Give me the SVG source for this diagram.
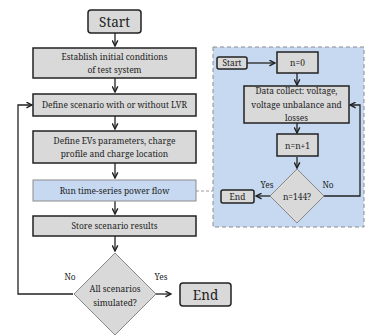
<svg xmlns="http://www.w3.org/2000/svg" width="370" height="336" viewBox="0 0 370 336" font-family="Noto Serif, Liberation Serif, serif">
<defs>
<marker id="ah" viewBox="0 0 10 10" refX="9" refY="5" markerWidth="7" markerHeight="7" markerUnits="userSpaceOnUse" orient="auto">
<path d="M1,1 L9,5 L1,9" fill="none" stroke="#222" stroke-width="2"/>
</marker>
</defs>
<style>
.box{fill:#d9d9d9;stroke:#222;stroke-width:1.5}
.blue{fill:#c6d9f1;stroke:#8c8c8c;stroke-width:1}
.t{font-size:8.4px;fill:#222;text-anchor:middle}
.big{font-size:13.5px;fill:#222;text-anchor:middle}
.ar{fill:none;stroke:#222;stroke-width:1.3;marker-end:url(#ah)}
</style>
<rect width="370" height="336" fill="#fff"/>
<g id="panel">
<rect x="213" y="47" width="151" height="180" fill="#c6d9f1" stroke="#8c8c8c" stroke-width="1" stroke-dasharray="4,3"/>
</g>
<g id="connectors">
<line class="ar" x1="115" y1="33" x2="115" y2="46"/>
<line class="ar" x1="115" y1="78" x2="115" y2="92"/>
<line class="ar" x1="115" y1="116" x2="115" y2="129"/>
<line class="ar" x1="115" y1="163" x2="115" y2="178"/>
<line class="ar" x1="115" y1="201" x2="115" y2="214"/>
<line class="ar" x1="115" y1="236" x2="115" y2="251"/>
<line class="ar" x1="156" y1="294" x2="171" y2="294"/>
<polyline class="ar" points="73,294 18,294 18,105 32,105"/>
<line x1="196" y1="191" x2="213" y2="191" stroke="#999" stroke-width="1" stroke-dasharray="3,2"/>
<line class="ar" x1="247" y1="63" x2="275" y2="63"/>
<line class="ar" x1="297" y1="73" x2="297" y2="85"/>
<line class="ar" x1="297" y1="123" x2="297" y2="133"/>
<line class="ar" x1="297" y1="157" x2="297" y2="168"/>
<line class="ar" x1="270" y1="196" x2="256" y2="196"/>
<polyline class="ar" points="324,196 360,196 360,105 350,105"/>
<text class="t" x="70" y="280">No</text>
<text class="t" x="161" y="280">Yes</text>
<text class="t" x="267" y="188">Yes</text>
<text class="t" x="328" y="188">No</text>
</g>
<g id="start">
<rect class="box" x="88" y="10" width="53" height="23" rx="3" stroke-width="2"/>
<text class="big" x="114.5" y="26.5">Start</text>
</g>
<g id="establish">
<rect class="box" x="33" y="48" width="163" height="30"/>
<text class="t" x="114.5" y="60">Establish initial conditions</text>
<text class="t" x="114.5" y="73">of test system</text>
</g>
<g id="scenario">
<rect class="box" x="33" y="94" width="163" height="22"/>
<text class="t" x="114.5" y="108">Define scenario with or without LVR</text>
</g>
<g id="evs">
<rect class="box" x="33" y="131" width="163" height="32"/>
<text class="t" x="114.5" y="143.5">Define EVs parameters, charge</text>
<text class="t" x="114.5" y="157">profile and charge location</text>
</g>
<g id="run">
<rect class="blue" x="33" y="180" width="163" height="21"/>
<text class="t" x="114.5" y="194">Run time-series power flow</text>
</g>
<g id="store">
<rect class="box" x="33" y="216" width="163" height="20"/>
<text class="t" x="114.5" y="229">Store scenario results</text>
</g>
<g id="decision">
<polygon points="115,253 156,294 115,335 74,294" fill="#d9d9d9" stroke="#888" stroke-width="1"/>
<text class="t" x="115" y="292">All scenarios</text>
<text class="t" x="115" y="306">simulated?</text>
</g>
<g id="end">
<rect class="box" x="180" y="283" width="51" height="23" rx="3" stroke-width="2"/>
<text class="big" x="205.5" y="299.5">End</text>
</g>
<g id="istart">
<rect class="box" x="217" y="57" width="30" height="12" rx="2"/>
<text class="t" x="232" y="66">Start</text>
</g>
<g id="n0">
<rect class="box" x="277" y="52" width="41" height="21" stroke-width="2"/>
<text class="t" x="297.5" y="66">n=0</text>
</g>
<g id="collect">
<rect class="box" x="244" y="86" width="105" height="37"/>
<text class="t" x="296.5" y="94">Data collect: voltage,</text>
<text class="t" x="296.5" y="107.5">voltage unbalance and</text>
<text class="t" x="296.5" y="121">losses</text>
</g>
<g id="ninc">
<rect class="box" x="277" y="134" width="41" height="22" stroke-width="2"/>
<text class="t" x="297.5" y="148.5">n=n+1</text>
</g>
<g id="n144">
<polygon points="297,169 324,196 297,223 270,196" fill="#d9d9d9" stroke="#888" stroke-width="1"/>
<text class="t" x="297" y="199.5">n=144?</text>
</g>
<g id="iend">
<rect class="box" x="221" y="190" width="33" height="13" rx="2"/>
<text class="t" x="237.5" y="200">End</text>
</g>
</svg>
